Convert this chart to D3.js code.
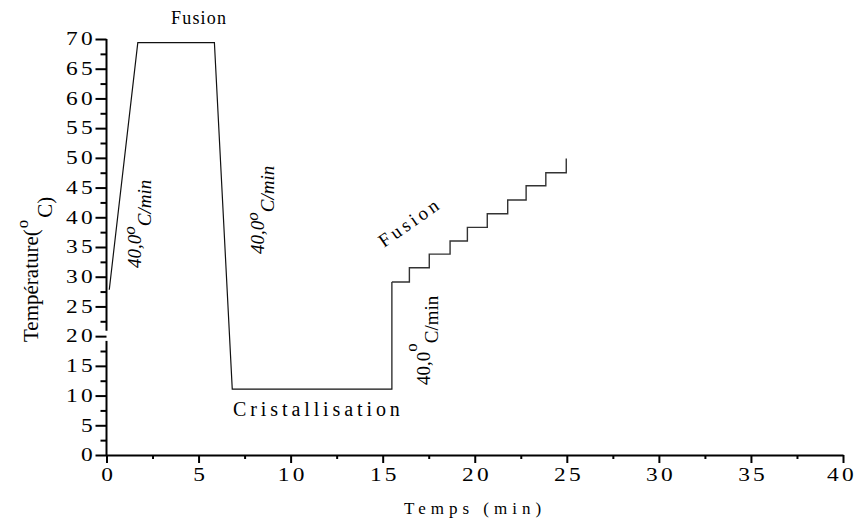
<!DOCTYPE html>
<html>
<head>
<meta charset="utf-8">
<script src="https://cdn.jsdelivr.net/npm/d3@7"></script>
<style>
  html, body { margin: 0; padding: 0; background: #fff; }
  svg { display: block; font-family: "Liberation Serif", "Times New Roman", serif; }
</style>
</head>
<body>
<svg id="chart" width="856" height="524"></svg>
<script>
// Thermal programme: heating ramp, isothermal melt, cooling, isothermal crystallisation,
// then stepwise re-heating (time in min, temperature in °C)
const rampTime = [0.15, 1.7, 5.86, 6.83, 15.5, 15.5];
const rampTemp = [27.8, 69.4, 69.4, 11.1, 11.1, 29.1];

const stepTime = [15.5, 16.45, 17.53, 18.66, 19.6, 20.68, 21.79, 22.79, 23.86, 24.97];
const stepTemp = [29.1, 31.5, 33.8, 36.0, 38.3, 40.6, 42.9, 45.3, 47.5, 49.9];

const xTickValues = [0, 5, 10, 15, 20, 25, 30, 35, 40];
const xMinorValues = [2.5, 7.5, 12.5, 17.5, 22.5, 27.5, 32.5, 37.5];
const yTickValues = [0, 5, 10, 15, 20, 25, 30, 35, 40, 45, 50, 55, 60, 65, 70];
const yMinorValues = [2.5, 7.5, 12.5, 17.5, 22.5, 27.5, 32.5, 37.5, 42.5, 47.5, 52.5, 57.5, 62.5, 67.5];

const svg = d3.select("#chart");
const x = d3.scaleLinear().domain([0, 40]).range([106.5, 843]);
const y = d3.scaleLinear().domain([0, 70]).range([455, 39]);

// tick labels use a slightly widened serif face
const STRETCH = 1.3;
const FONT = "Liberation Serif";

// ---- x axis ----
const xAxis = svg.append("g").attr("transform", `translate(0,${y(0)})`);
xAxis.call(d3.axisBottom(x).tickValues(xTickValues).tickSize(8).tickSizeOuter(0).tickPadding(5)
  .tickFormat(d3.format("d")));
xAxis.select(".domain").attr("stroke-width", 2);
xAxis.selectAll(".tick line").attr("stroke-width", 2);
xAxis.selectAll(".tick text")
  .attr("font-size", 18).attr("font-family", FONT).attr("fill", "#000")
  .style("letter-spacing", "2.5px")
  .attr("transform", `scale(${STRETCH},1)`)
  .attr("dx", d => (d === 40 ? -1.2 : 1.25));
const xMinor = svg.append("g").attr("transform", `translate(0,${y(0)})`);
xMinor.call(d3.axisBottom(x).tickValues(xMinorValues).tickSize(4).tickSizeOuter(0).tickFormat(""));
xMinor.select(".domain").remove();
xMinor.selectAll(".tick line").attr("stroke-width", 2);

// ---- y axis (with a break marker at 20) ----
const yAxis = svg.append("g").attr("transform", `translate(${x(0)},0)`);
yAxis.call(d3.axisLeft(y).tickValues(yTickValues).tickSize(11).tickSizeOuter(0)
  .tickFormat(d3.format("d")));
yAxis.select(".domain").remove();
yAxis.selectAll(".tick line").attr("stroke-width", 2);
yAxis.selectAll(".tick text")
  .attr("font-size", 18).attr("font-family", FONT).attr("fill", "#000")
  .style("letter-spacing", "2.5px")
  .attr("transform", `scale(${STRETCH},1)`)
  .attr("x", -10.6 / STRETCH);
const yMinor = svg.append("g").attr("transform", `translate(${x(0)},0)`);
yMinor.call(d3.axisLeft(y).tickValues(yMinorValues).tickSize(6).tickSizeOuter(0).tickFormat(""));
yMinor.select(".domain").remove();
yMinor.selectAll(".tick line").attr("stroke-width", 2);

const breakLow = 19.2, breakHigh = 20.9;
svg.append("g").selectAll("line")
  .data([[0, breakLow], [breakHigh, 70]])
  .join("line")
  .attr("x1", x(0)).attr("x2", x(0))
  .attr("y1", d => y(d[0]) + (d[0] === 0 ? 1 : 0)).attr("y2", d => y(d[1]))
  .attr("stroke", "#000").attr("stroke-width", 2);

// ---- temperature programme ----
const ramp = rampTime.map((t, i) => [t, rampTemp[i]]);
const steps = stepTime.map((t, i) => [t, stepTemp[i]]);
const lineLinear = d3.line().x(d => x(d[0])).y(d => y(d[1]));
const lineStep = d3.line().x(d => x(d[0])).y(d => y(d[1])).curve(d3.curveStepAfter);

svg.append("path").attr("d", lineLinear(ramp))
  .attr("fill", "none").attr("stroke", "#111").attr("stroke-width", 1.2);
svg.append("path").attr("d", lineStep(steps))
  .attr("fill", "none").attr("stroke", "#333").attr("stroke-width", 1.4);

// ---- axis titles ----
svg.append("text")
  .attr("x", 475).attr("y", 514)
  .attr("text-anchor", "middle")
  .attr("font-size", 17).style("letter-spacing", "5px")
  .text("Temps (min)");

const yTitle = svg.append("text")
  .attr("transform", `translate(38,342) rotate(-90)`)
  .attr("font-size", 21);
yTitle.append("tspan").text("Température(");
yTitle.append("tspan").attr("dy", -10).attr("dx", 1).attr("font-size", 17).text("o");
yTitle.append("tspan").attr("dy", 24).attr("dx", 2).text("C)");

// ---- annotations ----
svg.append("text")
  .attr("x", 171).attr("y", 24)
  .attr("font-size", 18).style("letter-spacing", "1.2px")
  .text("Fusion");

svg.append("text")
  .attr("x", 233).attr("y", 416)
  .attr("font-size", 20).style("letter-spacing", "3.9px")
  .text("Cristallisation");

svg.append("text")
  .attr("transform", `translate(384,248) rotate(-35)`)
  .attr("font-size", 19).style("letter-spacing", "3.4px")
  .text("Fusion");

function rateLabel(px, py, italic, sup, drop) {
  const t = svg.append("text")
    .attr("transform", `translate(${px},${py}) rotate(-90)`)
    .attr("font-size", 19)
    .attr("font-style", italic ? "italic" : "normal");
  t.append("tspan").text("40,0");
  t.append("tspan").attr("dy", -sup).attr("font-size", 17).text("o");
  t.append("tspan").attr("dy", sup + drop).text("C/min");
}
rateLabel(141, 268, true, 6, 10);
rateLabel(264, 254, true, 6, 10);
rateLabel(430, 385, false, 13, 8);
</script>
</body>
</html>
